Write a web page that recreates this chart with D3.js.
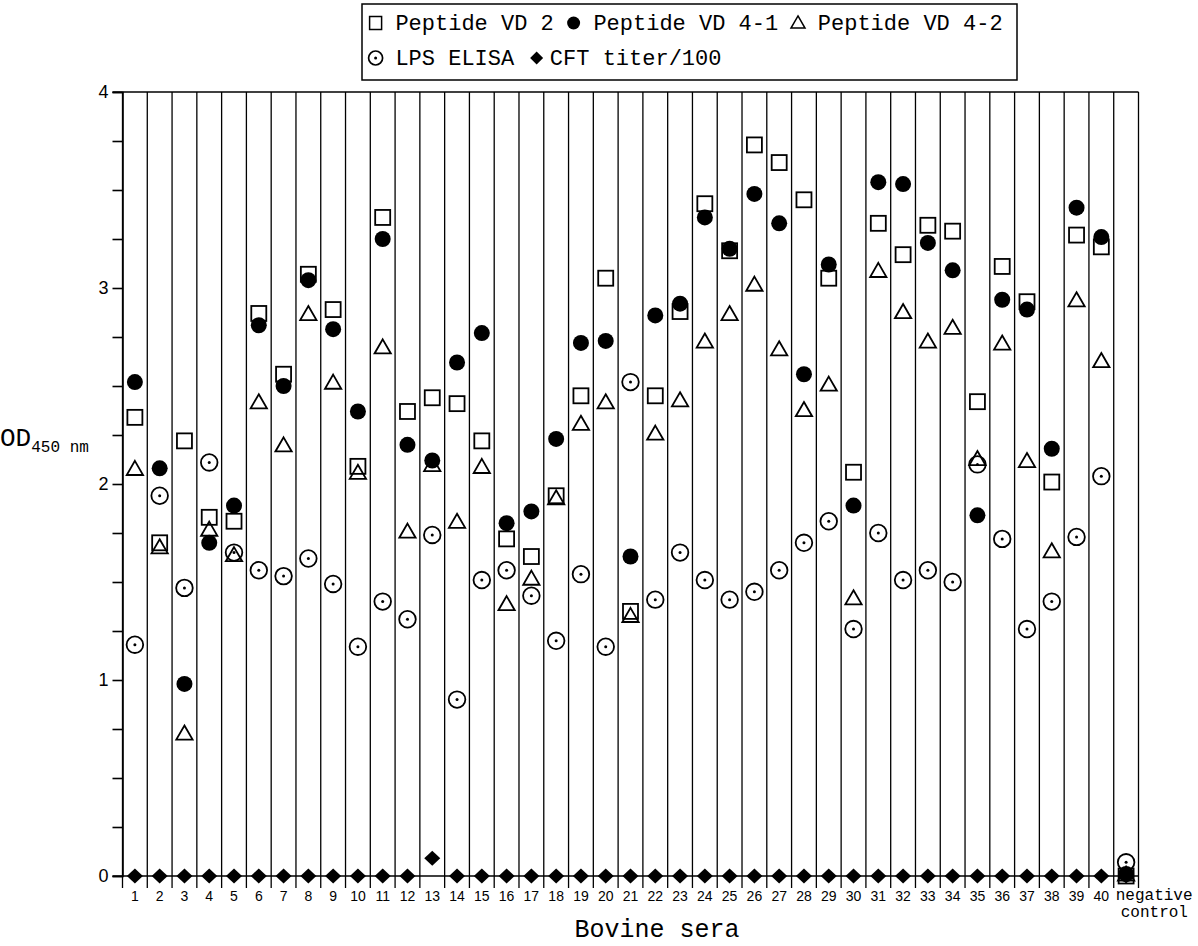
<!DOCTYPE html>
<html>
<head>
<meta charset="utf-8">
<script src="https://cdn.jsdelivr.net/npm/d3@7"></script>
<style>
  body { margin: 0; background: #fff; }
  svg { display: block; }
</style>
</head>
<body>
<div id="chart"></div>
<script>
// bovine sera, 40 samples plus the negative control
const sera = ['1', '2', '3', '4', '5', '6', '7', '8', '9', '10',
  '11', '12', '13', '14', '15', '16', '17', '18', '19', '20',
  '21', '22', '23', '24', '25', '26', '27', '28', '29', '30',
  '31', '32', '33', '34', '35', '36', '37', '38', '39', '40', 'neg'];

// OD450 values
const vd2 = [2.34, 1.70, 2.22, 1.83, 1.81, 2.87, 2.56, 3.07, 2.89, 2.09,
  3.36, 2.37, 2.44, 2.41, 2.22, 1.72, 1.63, 1.94, 2.45, 3.05,
  1.35, 2.45, 2.88, 3.43, 3.19, 3.73, 3.64, 3.45, 3.05, 2.06,
  3.33, 3.17, 3.32, 3.29, 2.42, 3.11, 2.93, 2.01, 3.27, 3.21, 0.0];
const vd41 = [2.52, 2.08, 0.98, 1.70, 1.89, 2.81, 2.50, 3.04, 2.79, 2.37,
  3.25, 2.20, 2.12, 2.62, 2.77, 1.80, 1.86, 2.23, 2.72, 2.73,
  1.63, 2.86, 2.92, 3.36, 3.20, 3.48, 3.33, 2.56, 3.12, 1.89,
  3.54, 3.53, 3.23, 3.09, 1.84, 2.94, 2.89, 2.18, 3.41, 3.26, 0.01];
const vd42 = [2.07, 1.67, 0.72, 1.76, 1.63, 2.41, 2.19, 2.86, 2.51, 2.05,
  2.69, 1.75, 2.09, 1.80, 2.08, 1.38, 1.51, 1.92, 2.30, 2.41,
  1.32, 2.25, 2.42, 2.72, 2.86, 3.01, 2.68, 2.37, 2.50, 1.41,
  3.08, 2.87, 2.72, 2.79, 2.12, 2.71, 2.11, 1.65, 2.93, 2.62, 0.0];
const lps = [1.18, 1.94, 1.47, 2.11, 1.65, 1.56, 1.53, 1.62, 1.49, 1.17,
  1.40, 1.31, 1.74, 0.90, 1.51, 1.56, 1.43, 1.20, 1.54, 1.17,
  2.52, 1.41, 1.65, 1.51, 1.41, 1.45, 1.56, 1.70, 1.81, 1.26,
  1.75, 1.51, 1.56, 1.50, 2.10, 1.72, 1.26, 1.40, 1.73, 2.04, 0.07];
const cft = [0, 0, 0, 0, 0, 0, 0, 0, 0, 0,
  0, 0, 0.09, 0, 0, 0, 0, 0, 0, 0,
  0, 0, 0, 0, 0, 0, 0, 0, 0, 0,
  0, 0, 0, 0, 0, 0, 0, 0, 0, 0, 0];

const yTicks = [0, 0.25, 0.5, 0.75, 1, 1.25, 1.5, 1.75, 2, 2.25, 2.5, 2.75, 3, 3.25, 3.5, 3.75, 4];

const W = 1198, H = 946;
const margin = { top: 92, right: 60, bottom: 70, left: 122.5 };
const plotBottom = H - margin.bottom;
const mono = 'Liberation Mono, Courier New, monospace';
const sans = 'Liberation Sans, Arial, sans-serif';

const svg = d3.select('#chart').append('svg')
  .attr('width', W)
  .attr('height', H);

const x = d3.scaleBand()
  .domain(sera)
  .range([margin.left, W - margin.right + 0.5])
  .padding(0);

const y = d3.scaleLinear()
  .domain([0, 4])
  .range([plotBottom, margin.top]);

const cx = (d, i) => x(sera[i]) + x.bandwidth() / 2;

// column separators, running a little below the zero line
const edges = sera.map(s => x(s)).concat([x.range()[1]]);
svg.append('g')
  .selectAll('line')
  .data(edges)
  .join('line')
  .attr('x1', d => d).attr('x2', d => d)
  .attr('y1', y(4)).attr('y2', y(0) + 12)
  .attr('stroke', '#000')
  .attr('stroke-width', 1.3);

// top border + zero line
svg.append('line')
  .attr('x1', margin.left - 10).attr('x2', x.range()[1])
  .attr('y1', y(4)).attr('y2', y(4))
  .attr('stroke', '#000').attr('stroke-width', 1.6);
svg.append('line')
  .attr('x1', margin.left - 10).attr('x2', x.range()[1])
  .attr('y1', y(0)).attr('y2', y(0))
  .attr('stroke', '#000').attr('stroke-width', 1.6);

// y axis
const yAxis = svg.append('g')
  .attr('transform', `translate(${margin.left},0)`)
  .call(d3.axisLeft(y)
    .tickValues(yTicks)
    .tickSize(10)
    .tickPadding(4)
    .tickFormat(d => Number.isInteger(d) ? d : ''));
yAxis.select('.domain').attr('stroke-width', 1.6);
yAxis.selectAll('.tick line').attr('stroke-width', 1.6);
yAxis.selectAll('.tick text')
  .attr('font-family', sans)
  .attr('font-size', 18)
  .attr('fill', '#000');

// column labels
svg.append('g')
  .selectAll('text')
  .data(sera.slice(0, 40))
  .join('text')
  .attr('x', d => x(d) + x.bandwidth() / 2)
  .attr('y', y(0) + 25)
  .attr('text-anchor', 'middle')
  .attr('font-family', sans)
  .attr('font-size', 14)
  .text(d => d);

const negX = x('neg') + 2;
svg.append('text')
  .attr('x', negX).attr('y', y(0) + 24)
  .attr('font-family', mono)
  .attr('font-size', 16)
  .text('negative');
svg.append('text')
  .attr('x', negX + 5).attr('y', y(0) + 41)
  .attr('font-family', mono)
  .attr('font-size', 16)
  .text('control');

// axis titles
svg.append('text')
  .attr('x', 657)
  .attr('y', 937)
  .attr('text-anchor', 'middle')
  .attr('font-family', mono)
  .attr('font-size', 25)
  .text('Bovine sera');

const odLabel = svg.append('text')
  .attr('x', 0).attr('y', 446)
  .attr('font-family', mono)
  .attr('font-size', 26);
odLabel.append('tspan').text('OD');
odLabel.append('tspan').attr('font-size', 16).attr('dy', 6).text('450 nm');

// markers
const sq = 15;
const triangle = d3.symbol(d3.symbolTriangle, 115);
const diamond = (px, py, w, h) => `M${px},${py - h}L${px + w},${py}L${px},${py + h}L${px - w},${py}Z`;

const marks = svg.append('g');

marks.selectAll('.vd2')
  .data(vd2)
  .join('rect')
  .attr('x', (d, i) => cx(d, i) - sq / 2)
  .attr('y', d => y(d) - sq / 2)
  .attr('width', sq).attr('height', sq)
  .attr('fill', 'none')
  .attr('stroke', '#000')
  .attr('stroke-width', 1.8);

marks.selectAll('.vd42')
  .data(vd42)
  .join('path')
  .attr('d', triangle)
  .attr('transform', (d, i) => `translate(${cx(d, i)},${y(d)})`)
  .attr('fill', 'none')
  .attr('stroke', '#000')
  .attr('stroke-width', 1.8);

marks.selectAll('.lps')
  .data(lps)
  .join('circle')
  .attr('cx', cx)
  .attr('cy', d => y(d))
  .attr('r', 8.3)
  .attr('fill', 'none')
  .attr('stroke', '#000')
  .attr('stroke-width', 1.8);
marks.selectAll('.lpsdot')
  .data(lps)
  .join('circle')
  .attr('cx', cx)
  .attr('cy', d => y(d))
  .attr('r', 1.5)
  .attr('fill', '#000');

marks.selectAll('.vd41')
  .data(vd41)
  .join('circle')
  .attr('cx', cx)
  .attr('cy', d => y(d))
  .attr('r', 8)
  .attr('fill', '#000');

marks.selectAll('.cft')
  .data(cft)
  .join('path')
  .attr('d', (d, i) => diamond(cx(d, i), y(d), 8, 7.5))
  .attr('fill', '#000');

// legend
const lg = { x: 362, y: 4, w: 655, h: 76, cw: 13.2, fs: 22 };
const legend = svg.append('g');
legend.append('rect')
  .attr('x', lg.x).attr('y', lg.y)
  .attr('width', lg.w).attr('height', lg.h)
  .attr('fill', '#fff')
  .attr('stroke', '#000')
  .attr('stroke-width', 1.5);

const row1 = lg.y + 26, row2 = lg.y + 61;
const tx = lg.x + 7;
const legendItems = [
  { sym: 'square', col: 0, text: 2, row: row1, label: 'Peptide VD 2' },
  { sym: 'dot', col: 15, text: 17, row: row1, label: 'Peptide VD 4-1' },
  { sym: 'tri', col: 32, text: 34, row: row1, label: 'Peptide VD 4-2' },
  { sym: 'ring', col: 0, text: 2, row: row2, label: 'LPS ELISA' },
  { sym: 'diamond', col: 12.2, text: 13.7, row: row2, label: 'CFT titer/100' }
];

legendItems.forEach(it => {
  const sx = tx + it.col * lg.cw + lg.cw / 2;
  const sy = it.row - 7;
  if (it.sym === 'square') {
    legend.append('rect').attr('x', sx - 6).attr('y', sy - 6.5).attr('width', 12).attr('height', 13)
      .attr('fill', 'none').attr('stroke', '#000').attr('stroke-width', 1.5);
  } else if (it.sym === 'dot') {
    legend.append('circle').attr('cx', sx).attr('cy', sy).attr('r', 6.5).attr('fill', '#000');
  } else if (it.sym === 'tri') {
    legend.append('path').attr('d', d3.symbol(d3.symbolTriangle, 85))
      .attr('transform', `translate(${sx},${sy + 1})`)
      .attr('fill', 'none').attr('stroke', '#000').attr('stroke-width', 1.5);
  } else if (it.sym === 'ring') {
    legend.append('circle').attr('cx', sx).attr('cy', sy).attr('r', 7)
      .attr('fill', 'none').attr('stroke', '#000').attr('stroke-width', 1.7);
    legend.append('circle').attr('cx', sx).attr('cy', sy).attr('r', 1.5).attr('fill', '#000');
  } else {
    legend.append('path').attr('d', diamond(sx, sy, 6.5, 6.5)).attr('fill', '#000');
  }
  legend.append('text')
    .attr('x', tx + it.text * lg.cw)
    .attr('y', it.row)
    .attr('font-family', mono)
    .attr('font-size', lg.fs)
    .text(it.label);
});
</script>
</body>
</html>
